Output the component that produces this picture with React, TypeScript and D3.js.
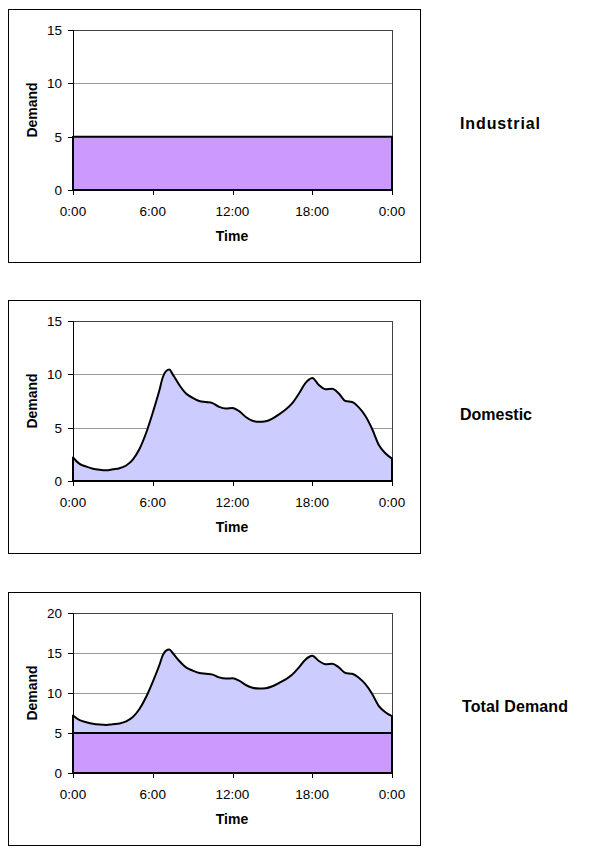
import React from "react";
import * as d3 from "d3";

// Time in hours (0 = 0:00, 24 = next 0:00)
const domesticHours = [
  0, 0.5, 1, 1.5, 2, 2.5, 3, 3.5, 4, 4.5, 5, 5.5, 6, 6.5, 6.75, 7, 7.25, 7.5, 8, 8.5, 9, 9.5,
  10, 10.5, 11, 11.5, 12, 12.5, 13, 13.5, 14, 14.5, 15, 15.5, 16, 16.5, 17, 17.5, 17.75, 18,
  18.5, 19, 19.5, 20, 20.5, 21, 21.5, 22, 22.5, 23, 23.5, 24,
];
const domesticValues = [
  2.2, 1.6, 1.35, 1.15, 1.05, 1.0, 1.1, 1.2, 1.45, 2.0, 3.0, 4.5, 6.4, 8.5, 9.7, 10.3, 10.45, 10.0,
  9.0, 8.2, 7.8, 7.5, 7.4, 7.3, 6.95, 6.8, 6.85, 6.55, 6.0, 5.65, 5.55, 5.6, 5.85, 6.25,
  6.7, 7.3, 8.2, 9.2, 9.5, 9.65, 9.0, 8.6, 8.65, 8.2, 7.5, 7.4, 6.9, 6.1, 4.9, 3.4, 2.6, 2.1,
];
const industrialHours = [0, 24];
const industrialValues = [5, 5];

const xTickHours = [0, 6, 12, 18, 24];
const xTickLabels = ["0:00", "6:00", "12:00", "18:00", "0:00"];
const yTicksSmall = [0, 5, 10, 15];
const yTicksTotal = [0, 5, 10, 15, 20];
const chartTitles = ["Industrial", "Domestic", "Total Demand"];

const INDUSTRIAL_FILL = "#CC99FF";
const DOMESTIC_FILL = "#CCCCFF";
const FONT = "Arial, 'Liberation Sans', Helvetica, sans-serif";

type Band = { times: number[]; lower: number[]; upper: number[]; fill: string };

function Chart({
  top,
  yTicks,
  bands,
  title,
  titleX,
  titleWeight,
  titleLen,
}: {
  top: number;
  yTicks: number[];
  bands: Band[];
  title: string;
  titleX: number;
  titleWeight: string;
  titleLen: number;
}) {
  const plotL = 73;
  const plotR = 392;
  const plotT = top + 21;
  const plotB = top + 181;
  const x = d3.scaleLinear().domain([0, 24]).range([plotL, plotR]);
  const y = d3
    .scaleLinear()
    .domain([0, yTicks[yTicks.length - 1]])
    .range([plotB, plotT]);

  return (
    <g>
      <rect x={8.5} y={top + 0.5} width={412} height={253} fill="white" stroke="black" strokeWidth={1} />
      {yTicks.slice(1).map((t) => (
        <line key={"g" + t} x1={plotL} x2={plotR} y1={Math.round(y(t)) + 0.5} y2={Math.round(y(t)) + 0.5} stroke="#999" strokeWidth={1} />
      ))}
      <line x1={plotL} x2={plotR} y1={plotT + 0.5} y2={plotT + 0.5} stroke="#444" strokeWidth={1} />
      <line x1={plotR + 0.5} x2={plotR + 0.5} y1={plotT} y2={plotB} stroke="#444" strokeWidth={1} />
      {bands.map((b, i) => {
        const pts = b.times.map((t, k) => ({ t, lo: b.lower[k], hi: b.upper[k] }));
        const area = d3
          .area<{ t: number; lo: number; hi: number }>()
          .x((d) => x(d.t))
          .y0((d) => y(d.lo))
          .y1((d) => y(d.hi))
          .curve(d3.curveMonotoneX);
        return (
          <path key={"a" + i} d={area(pts) || ""} fill={b.fill} stroke="black" strokeWidth={2} strokeLinejoin="round" />
        );
      })}
      <line x1={plotL + 0.5} x2={plotL + 0.5} y1={plotT} y2={plotB + 5} stroke="black" strokeWidth={1} />
      <line x1={plotL} x2={plotR + 1} y1={plotB + 0.5} y2={plotB + 0.5} stroke="black" strokeWidth={1} />
      {yTicks.map((t) => (
        <g key={"y" + t}>
          <line x1={plotL - 5} x2={plotL} y1={Math.round(y(t)) + 0.5} y2={Math.round(y(t)) + 0.5} stroke="black" strokeWidth={1} />
          <text x={62} y={y(t)} dy="0.36em" textAnchor="end" fontFamily={FONT} fontSize={13.5} fill="black">
            {t}
          </text>
        </g>
      ))}
      {xTickHours.map((h, i) => (
        <g key={"x" + i}>
          <line x1={Math.round(x(h)) + 0.5} x2={Math.round(x(h)) + 0.5} y1={plotB} y2={plotB + 5} stroke="black" strokeWidth={1} />
          <text x={x(h)} y={plotB + 26} textAnchor="middle" fontFamily={FONT} fontSize={13.5} fill="black">
            {xTickLabels[i]}
          </text>
        </g>
      ))}
      <text x={232} y={top + 232} textAnchor="middle" fontFamily={FONT} fontSize={14} fontWeight="bold" fill="black">
        Time
      </text>
      <text
        transform={`translate(37, ${(plotT + plotB) / 2}) rotate(-90)`}
        textAnchor="middle"
        fontFamily={FONT}
        fontSize={14}
        fontWeight="bold"
        fill="black"
      >
        Demand
      </text>
      <text
        x={titleX}
        y={top + 120}
        fontFamily={FONT}
        fontSize={16}
        fontWeight={titleWeight}
        fill="black"
        textLength={titleLen}
        lengthAdjust="spacing"
      >
        {title}
      </text>
    </g>
  );
}

export default function App() {
  const zeros = domesticValues.map(() => 0);
  const industrialZeros = industrialValues.map(() => 0);
  const stackedBase = domesticHours.map(() => industrialValues[0]);
  const stackedTop = domesticValues.map((v, i) => v + stackedBase[i]);

  return (
    <svg
      width={602}
      height={852}
      style={{ position: "absolute", left: 0, top: 0, background: "white" }}
    >
      <rect x={0} y={0} width={602} height={852} fill="white" />
      <Chart
        top={9}
        yTicks={yTicksSmall}
        bands={[{ times: industrialHours, lower: industrialZeros, upper: industrialValues, fill: INDUSTRIAL_FILL }]}
        title={chartTitles[0]}
        titleX={460}
        titleWeight="bold"
        titleLen={80}
      />
      <Chart
        top={300}
        yTicks={yTicksSmall}
        bands={[{ times: domesticHours, lower: zeros, upper: domesticValues, fill: DOMESTIC_FILL }]}
        title={chartTitles[1]}
        titleX={460}
        titleWeight="bold"
        titleLen={72}
      />
      <Chart
        top={592}
        yTicks={yTicksTotal}
        bands={[
          { times: industrialHours, lower: industrialZeros, upper: industrialValues, fill: INDUSTRIAL_FILL },
          { times: domesticHours, lower: stackedBase, upper: stackedTop, fill: DOMESTIC_FILL },
        ]}
        title={chartTitles[2]}
        titleX={462}
        titleWeight="bold"
        titleLen={106}
      />
    </svg>
  );
}
